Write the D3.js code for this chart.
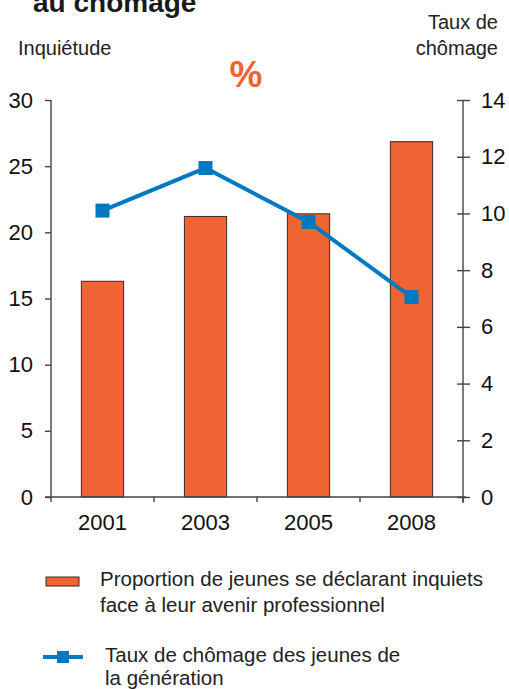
<!DOCTYPE html>
<html>
<head>
<meta charset="utf-8">
<script src="https://cdn.jsdelivr.net/npm/d3@7"></script>
<style>
  body { margin: 0; background: #fff; }
  svg { display: block; font-family: "Liberation Sans", Arial, sans-serif; }
</style>
</head>
<body>
<div id="chart"></div>
<script>
var years = ["2001", "2003", "2005", "2008"];
var inquietude = [16.3, 21.2, 21.4, 26.85];   // % de jeunes inquiets (axe gauche)
var chomage = [10.1, 11.6, 9.7, 7.05];        // taux de chômage (axe droit)
var leftTicks = [0, 5, 10, 15, 20, 25, 30];
var rightTicks = [0, 2, 4, 6, 8, 10, 12, 14];

var orange = "#f06434",
    blue = "#0079c2",
    axisColor = "#444";

var W = 509, H = 689;
var margin = {top: 100, right: 46, bottom: 192, left: 51},
    width = W - margin.left - margin.right,
    height = H - margin.top - margin.bottom;

var svg = d3.select("#chart").append("svg")
    .attr("width", W)
    .attr("height", H);

// titre coupé en haut
svg.append("text")
    .attr("x", 33).attr("y", 12)
    .style("font-size", "28px").style("font-weight", "bold").attr("fill", "#1a1a1a")
    .text("au chômage");

svg.append("text")
    .attr("x", 18).attr("y", 55)
    .style("font-size", "20px").attr("fill", "#222")
    .text("Inquiétude");

svg.append("text")
    .attr("x", 498).attr("y", 29).attr("text-anchor", "end")
    .style("font-size", "20px").attr("fill", "#222")
    .text("Taux de");
svg.append("text")
    .attr("x", 498).attr("y", 55).attr("text-anchor", "end")
    .style("font-size", "20px").attr("fill", "#222")
    .text("chômage");

svg.append("text")
    .attr("x", 246).attr("y", 87).attr("text-anchor", "middle")
    .style("font-size", "37px").style("font-weight", "bold").attr("fill", orange)
    .text("%");

var g = svg.append("g")
    .attr("transform", "translate(" + margin.left + "," + margin.top + ")");

var x = d3.scaleBand()
    .domain(years)
    .range([0, width])
    .paddingInner(0.59)
    .paddingOuter(0.295);

var yL = d3.scaleLinear().domain([0, 30]).range([height, 0]);
var yR = d3.scaleLinear().domain([0, 14]).range([height, 0]);

// barres
g.selectAll(".bar")
    .data(inquietude)
    .enter().append("rect")
    .attr("class", "bar")
    .attr("x", function(d, i) { return x(years[i]); })
    .attr("width", x.bandwidth())
    .attr("y", function(d) { return yL(d); })
    .attr("height", function(d) { return height - yL(d); })
    .attr("fill", orange)
    .attr("stroke", "#3a2a22")
    .attr("stroke-width", 1);

// axe gauche
var axL = g.append("g")
    .call(d3.axisLeft(yL).tickValues(leftTicks).tickSize(6).tickPadding(12));

// axe droit
var axR = g.append("g")
    .attr("transform", "translate(" + width + ",0)")
    .call(d3.axisRight(yR).tickValues(rightTicks).tickSize(7).tickPadding(11));
axR.selectAll(".tick line").attr("x1", -6);

// axe bas
var xTicks = d3.scaleLinear().domain([0, 4]).range([0, width]);
var axB = g.append("g")
    .attr("transform", "translate(0," + height + ")");
axB.append("line")
    .attr("x1", -6).attr("x2", width + 3)
    .attr("stroke", axisColor).attr("stroke-width", 1.4);
axB.selectAll(".xt")
    .data(d3.range(5))
    .enter().append("line")
    .attr("x1", function(d) { return xTicks(d); })
    .attr("x2", function(d) { return xTicks(d); })
    .attr("y1", 0).attr("y2", 5)
    .attr("stroke", axisColor).attr("stroke-width", 1.4);
axB.selectAll(".xl")
    .data(years)
    .enter().append("text")
    .attr("x", function(d) { return x(d) + x.bandwidth() / 2; })
    .attr("y", 33)
    .attr("text-anchor", "middle")
    .style("font-size", "22px").attr("fill", "#111")
    .text(function(d) { return d; });

[axL, axR].forEach(function(a) {
  a.select(".domain").attr("stroke", axisColor).attr("stroke-width", 1.4);
  a.selectAll(".tick line").attr("stroke", axisColor).attr("stroke-width", 1.4);
  a.selectAll(".tick text").style("font-size", "22px").attr("fill", "#111");
});
axL.select(".domain").attr("d", "M0," + height + "V0");
axR.select(".domain").attr("d", "M0," + (height + 6) + "V0");

// ligne chômage
var line = d3.line()
    .x(function(d, i) { return x(years[i]) + x.bandwidth() / 2; })
    .y(function(d) { return yR(d); });

g.append("path")
    .datum(chomage)
    .attr("d", line)
    .attr("fill", "none")
    .attr("stroke", blue)
    .attr("stroke-width", 4);

g.selectAll(".pt")
    .data(chomage)
    .enter().append("rect")
    .attr("class", "pt")
    .attr("x", function(d, i) { return x(years[i]) + x.bandwidth() / 2 - 7; })
    .attr("y", function(d) { return yR(d) - 7; })
    .attr("width", 14).attr("height", 14)
    .attr("fill", blue);

// légende
var leg = svg.append("g");
leg.append("rect")
    .attr("x", 46).attr("y", 577).attr("width", 33).attr("height", 9)
    .attr("fill", orange).attr("stroke", "#3a2a22").attr("stroke-width", 1);
leg.append("text")
    .attr("x", 100).attr("y", 586)
    .style("font-size", "20.5px").attr("fill", "#222")
    .text("Proportion de jeunes se déclarant inquiets");
leg.append("text")
    .attr("x", 100).attr("y", 612)
    .style("font-size", "20.5px").attr("fill", "#222")
    .text("face à leur avenir professionnel");

leg.append("line")
    .attr("x1", 43).attr("x2", 83).attr("y1", 657).attr("y2", 657)
    .attr("stroke", blue).attr("stroke-width", 4);
leg.append("rect")
    .attr("x", 57).attr("y", 651).attr("width", 12).attr("height", 12)
    .attr("fill", blue);
leg.append("text")
    .attr("x", 105).attr("y", 662)
    .style("font-size", "20.5px").attr("fill", "#222")
    .text("Taux de chômage des jeunes de");
leg.append("text")
    .attr("x", 105).attr("y", 685)
    .style("font-size", "20.5px").attr("fill", "#222")
    .text("la génération");
</script>
</body>
</html>
